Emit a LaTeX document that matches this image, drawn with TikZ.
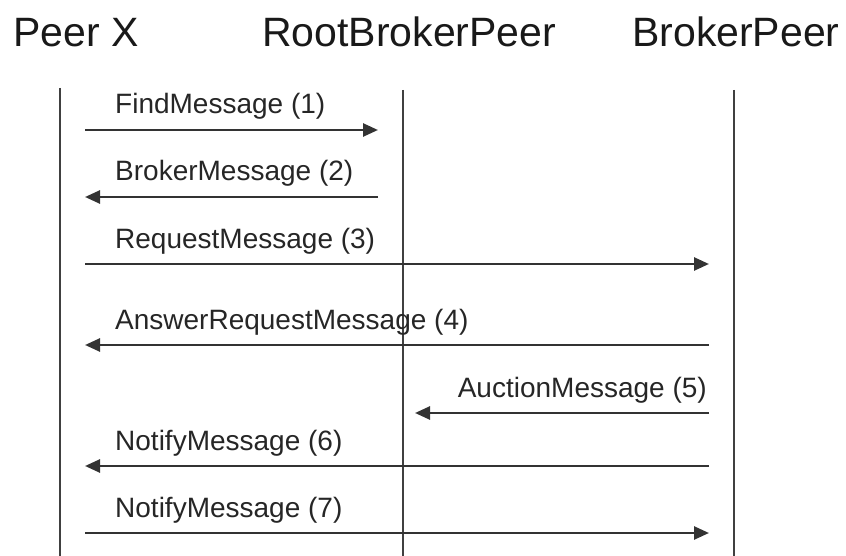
\documentclass[tikz,border=0pt]{standalone}
\usepackage{fontspec}
\setmainfont{Liberation Sans}
\usetikzlibrary{arrows.meta}

\begin{document}
\begin{tikzpicture}[>={Triangle[length=15pt,width=13pt]}, x=1pt, y=-1pt,
  vita/.style={line width=2.4pt, draw=black!75},
  msg/.style={->, line width=2.6pt, draw=black!80},
  attore/.style={font=\fontsize{41}{44}\selectfont, inner sep=0pt, anchor=base west, text=black!90},
  etichetta/.style={font=\fontsize{28}{30}\selectfont, inner sep=0pt, text=black!85}]

\useasboundingbox (0,0) rectangle (846,556);

% Partecipanti
\node[attore] (peer) at (13,47) {Peer X};
\node[attore] (root) at (262,47) {RootBrokerPeer};
\node[attore] (broker) at (632,47) {BrokerPeer};

% Linee di vita
\coordinate (peerA) at (60,88);   \coordinate (peerB) at (60,556);
\coordinate (rootA) at (403,90);  \coordinate (rootB) at (403,556);
\coordinate (brokerA) at (734,90); \coordinate (brokerB) at (734,556);
\draw[vita] (peerA) -- (peerB);
\draw[vita] (rootA) -- (rootB);
\draw[vita] (brokerA) -- (brokerB);

% Messaggi
\foreach \n/\xa/\xb/\y/\testo in {
    1/85/378/130/FindMessage (1),
    2/378/85/197/BrokerMessage (2),
    3/85/709/264/RequestMessage (3),
    4/709/85/345/AnswerRequestMessage (4),
    6/709/85/466/NotifyMessage (6),
    7/85/709/533/NotifyMessage (7)} {
  \coordinate (m\n a) at (\xa,\y);
  \coordinate (m\n b) at (\xb,\y);
  \node[etichetta, anchor=base west] (t\n) at (115,\y-16) {\testo};
  \draw[msg] (m\n a) -- (m\n b);
}

% Messaggio (5), verso sinistra fino a RootBrokerPeer
\coordinate (m5a) at (709,413);
\coordinate (m5b) at (415,413);
\node[etichetta, anchor=base east] (t5) at (707,397) {AuctionMessage (5)};
\draw[msg] (m5a) -- (m5b);

\end{tikzpicture}
\end{document}
